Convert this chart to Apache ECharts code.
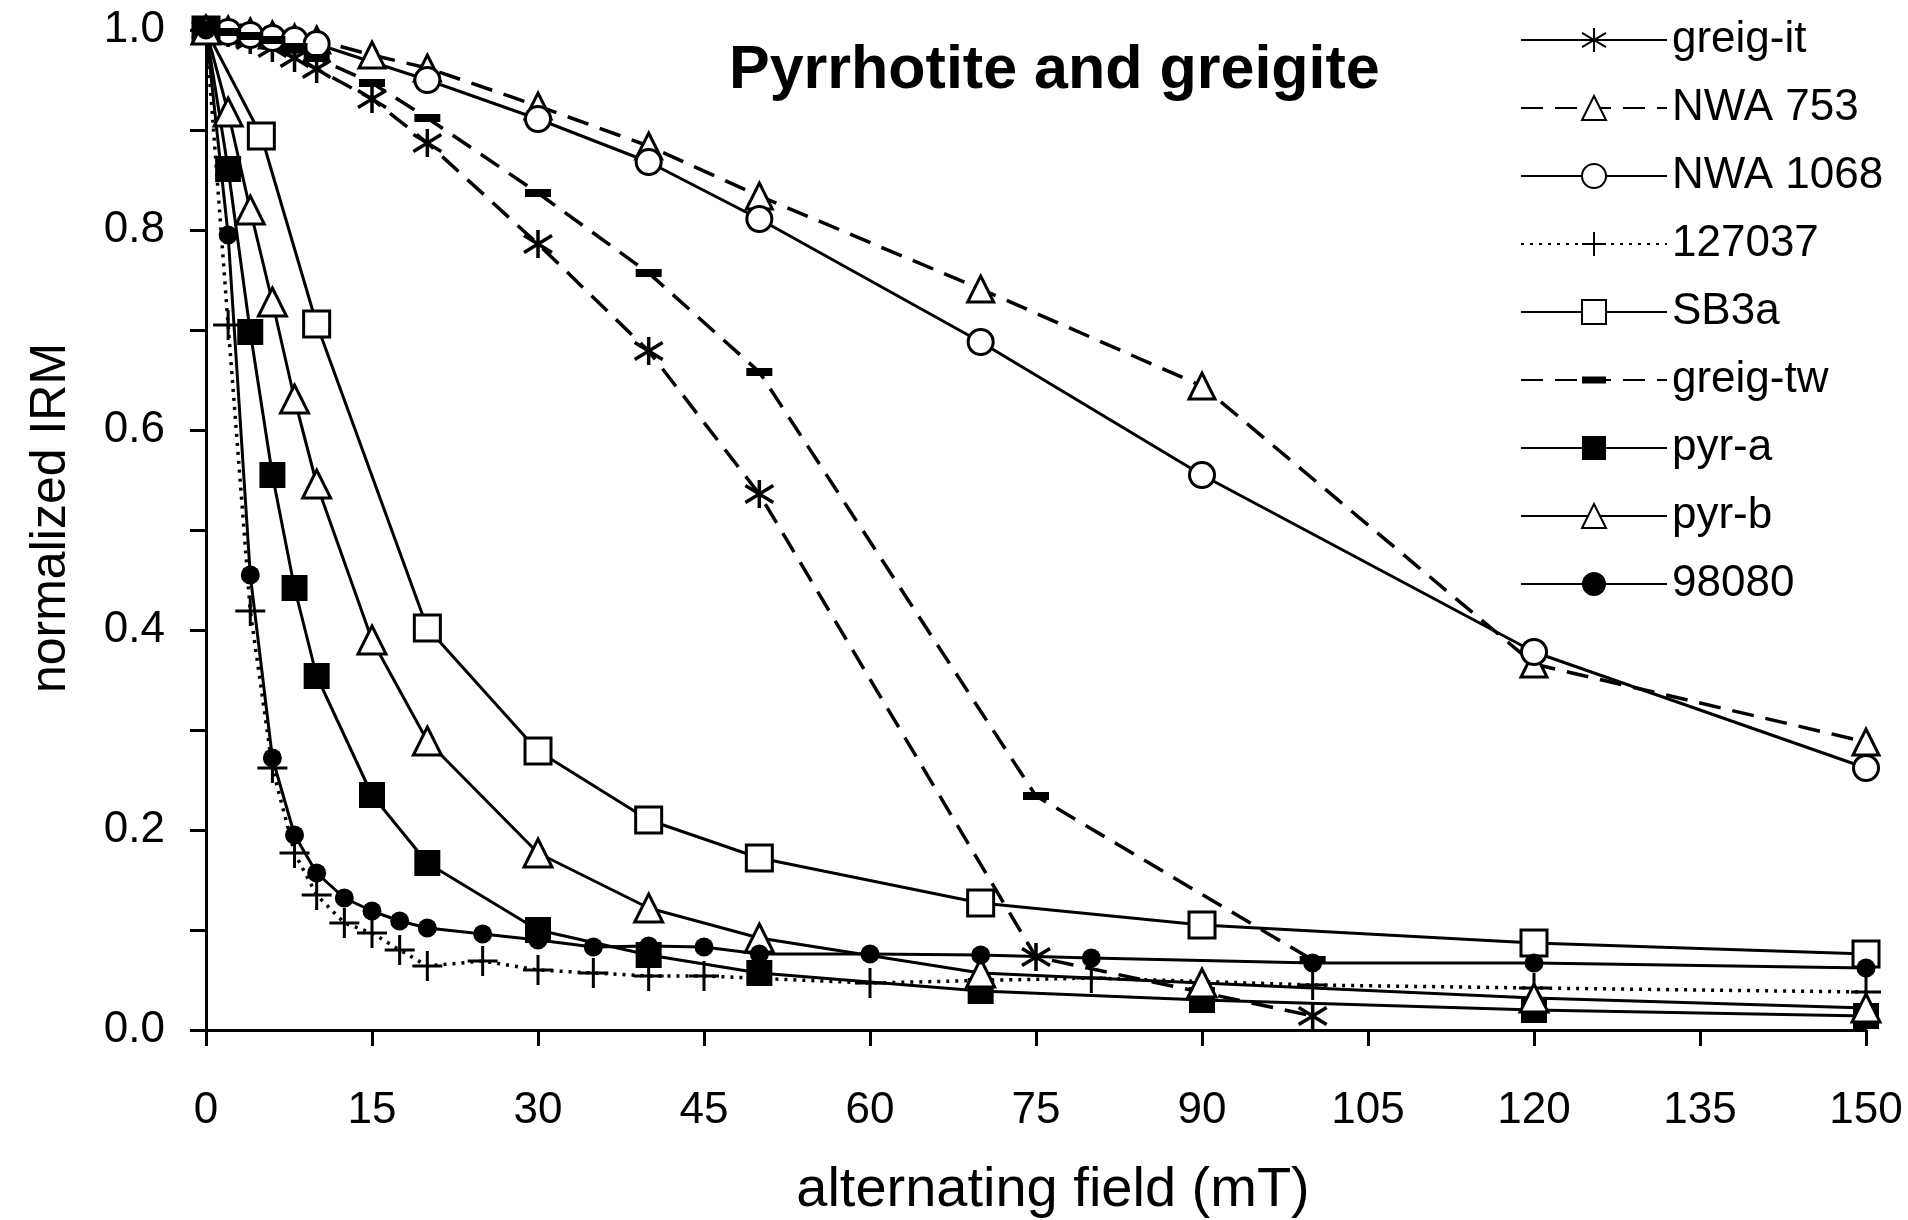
<!DOCTYPE html>
<html>
<head>
<meta charset="utf-8">
<script src="https://cdn.jsdelivr.net/npm/echarts@6/dist/echarts.min.js"></script>
<style>
  html, body { margin: 0; padding: 0; background: #fff; }
  #chart { width: 1908px; height: 1220px; }
</style>
</head>
<body>
<div id="chart"></div>
<script>
// alternating field (mT) vs normalized IRM
const greigIt  = [[0,1],[2,0.997],[4,0.99],[6,0.982],[8,0.972],[10,0.961],[15,0.931],[20,0.887],[30,0.786],[40,0.679],[50,0.536],[75,0.073],[100,0.014]]
const nwa753   = [[0,1],[2,1],[4,0.998],[6,0.995],[8,0.992],[10,0.99],[15,0.975],[20,0.962],[30,0.924],[40,0.884],[50,0.834],[70,0.741],[90,0.644],[120,0.366],[150,0.288]]
const nwa1068  = [[0,1],[2,0.998],[4,0.995],[6,0.992],[8,0.99],[10,0.986],[20,0.95],[30,0.911],[40,0.868],[50,0.811],[70,0.688],[90,0.555],[120,0.378],[150,0.262]]
const s127037  = [[0,1],[2,0.705],[4,0.419],[6,0.262],[8,0.177],[10,0.135],[12.5,0.107],[15,0.097],[17.5,0.08],[20,0.064],[25,0.069],[30,0.06],[35,0.057],[40,0.054],[45,0.054],[60,0.047],[80,0.052],[100,0.045],[120,0.042],[150,0.038]]
const sb3a     = [[0,1],[5,0.894],[10,0.706],[20,0.402],[30,0.279],[40,0.21],[50,0.172],[70,0.127],[90,0.105],[120,0.087],[150,0.076]]
const greigTw  = [[0,1],[2,0.998],[4,0.994],[6,0.99],[8,0.983],[10,0.972],[15,0.947],[20,0.912],[30,0.837],[40,0.757],[50,0.658],[75,0.234],[100,0.07]]
const pyrA     = [[0,1],[2,0.861],[4,0.698],[6,0.555],[8,0.442],[10,0.354],[15,0.235],[20,0.167],[30,0.1],[40,0.075],[50,0.057],[70,0.039],[90,0.03],[120,0.02],[150,0.014]]
const pyrB     = [[0,1],[2,0.918],[4,0.82],[6,0.728],[8,0.631],[10,0.546],[15,0.39],[20,0.289],[30,0.177],[40,0.122],[50,0.092],[70,0.057],[90,0.047],[120,0.032],[150,0.022]]
const s98080   = [[0,1],[2,0.795],[4,0.455],[6,0.272],[8,0.195],[10,0.157],[12.5,0.132],[15,0.119],[17.5,0.109],[20,0.102],[25,0.096],[30,0.09],[35,0.083],[40,0.084],[45,0.083],[50,0.076],[60,0.076],[70,0.075],[80,0.072],[100,0.067],[120,0.067],[150,0.062]]

const xTicks = [0,15,30,45,60,75,90,105,120,135,150]
const yTicks = [0,0.2,0.4,0.6,0.8,1.0]

// marker shapes
const ASTER = 'path://M10,0 L10,20 M1,4 L19,16 M19,4 L1,16'
const PLUS  = 'path://M10,0 L10,20 M0,10 L20,10'
// short thick bar, tiny specks keep the box square so legend draws it the same
const DASH  = 'path://M0,7 H20 V13 H0 Z M10,0 L10.02,0 L10,0.02 Z M10,20 L10.02,20 L10,19.98 Z'

const DASHED = [22, 12]
const DOTTED = [3, 6]

function line(name, data, symbol, size, fill, type, stroke) {
  return {
    name: name,
    type: 'line',
    data: data,
    symbol: symbol,
    symbolSize: size,
    clip: false,
    lineStyle: { color: '#000', width: type === 'solid' ? 3 : 3.5, type: type },
    itemStyle: { color: fill, borderColor: '#000', borderWidth: stroke },
    emphasis: { disabled: true }
  }
}

const chart = echarts.init(document.getElementById('chart'))

chart.setOption({
  backgroundColor: '#fff',
  animation: false,
  textStyle: { fontFamily: 'Liberation Sans', color: '#000' },
  title: {
    text: 'Pyrrhotite and greigite',
    left: 724,
    top: 36,
    textStyle: { fontFamily: 'Liberation Sans', fontWeight: 'bold', fontSize: 61, color: '#000' }
  },
  legend: {
    orient: 'vertical',
    left: 1515,
    top: 13,
    itemWidth: 146,
    itemHeight: 30,
    itemGap: 24,
    textStyle: { fontFamily: 'Liberation Sans', fontSize: 44, lineHeight: 40, color: '#000' },
    data: [
      { name: 'greig-it', lineStyle: { type: 'solid' } },
      'NWA 753', 'NWA 1068', '127037', 'SB3a', 'greig-tw', 'pyr-a', 'pyr-b', '98080'
    ]
  },
  grid: { left: 206, right: 42, top: 30, bottom: 190, outerBoundsMode: 'none' },
  xAxis: {
    type: 'value',
    min: 0, max: 150, interval: 15,
    name: 'alternating field (mT)',
    nameLocation: 'middle',
    nameGap: 133,
    nameTextStyle: { fontSize: 56, color: '#000', padding: [0, 0, 0, 34] },
    axisLine: { lineStyle: { color: '#000', width: 3 } },
    axisTick: { length: 16, lineStyle: { color: '#000', width: 3 } },
    splitLine: { show: false },
    axisLabel: {
      margin: 59, fontSize: 44, color: '#000',
      formatter: v => xTicks.includes(v) ? String(v) : ''
    }
  },
  yAxis: {
    type: 'value',
    min: 0, max: 1, interval: 0.2,
    name: 'normalized IRM',
    nameLocation: 'middle',
    nameGap: 130,
    nameTextStyle: { fontSize: 50, color: '#000', padding: [0, 0, 0, 24] },
    axisLine: { lineStyle: { color: '#000', width: 3 } },
    axisTick: { length: 16, lineStyle: { color: '#000', width: 3 } },
    minorTick: { show: true, splitNumber: 2, length: 16, lineStyle: { color: '#000', width: 3 } },
    splitLine: { show: false },
    axisLabel: {
      margin: 41, fontSize: 44, color: '#000',
      formatter: v => yTicks.some(t => Math.abs(t - v) < 1e-9) ? v.toFixed(1) : ''
    }
  },
  series: [
    line('greig-it', greigIt, ASTER, 28, 'none', DASHED, 3.5),
    line('NWA 753', nwa753, 'triangle', 26, '#fff', DASHED, 3),
    line('NWA 1068', nwa1068, 'circle', 25, '#fff', 'solid', 3),
    line('127037', s127037, PLUS, 30, 'none', DOTTED, 3),
    line('SB3a', sb3a, 'rect', 26, '#fff', 'solid', 3),
    line('greig-tw', greigTw, DASH, 26, '#000', DASHED, 0),
    line('pyr-a', pyrA, 'rect', 26, '#000', 'solid', 0),
    line('pyr-b', pyrB, 'triangle', 28, '#fff', 'solid', 3),
    line('98080', s98080, 'circle', 19, '#000', 'solid', 0)
  ]
})
</script>
</body>
</html>
